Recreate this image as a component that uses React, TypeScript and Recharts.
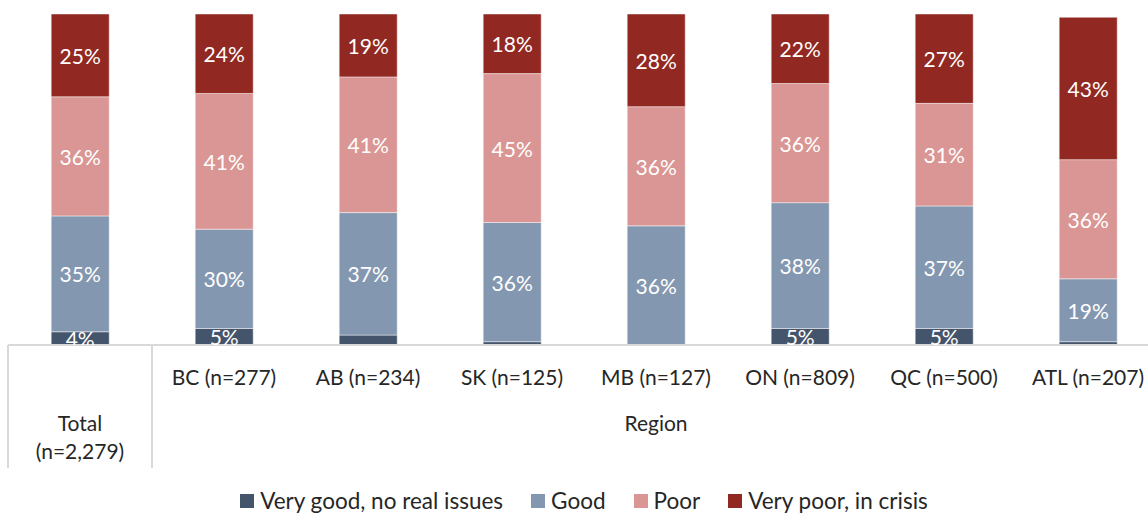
import { BarChart, Bar, XAxis, YAxis, Legend, LabelList } from "recharts";

const categories = [
  "Total (n=2,279)",
  "BC (n=277)",
  "AB (n=234)",
  "SK (n=125)",
  "MB (n=127)",
  "ON (n=809)",
  "QC (n=500)",
  "ATL (n=207)",
];
const veryGood = [4, 5, 3, 1, 0, 5, 5, 1];
const good = [35, 30, 37, 36, 36, 38, 37, 19];
const poor = [36, 41, 41, 45, 36, 36, 31, 36];
const veryPoor = [25, 24, 19, 18, 28, 22, 27, 43];

const groupLabel = "Region";

const series = [
  { key: "veryGood", name: "Very good, no real issues", color: "#44546A" },
  { key: "good", name: "Good", color: "#8497B0" },
  { key: "poor", name: "Poor", color: "#DA9694" },
  { key: "veryPoor", name: "Very poor, in crisis", color: "#922822" },
];

const data = categories.map((c, i) => ({
  name: c,
  veryGood: veryGood[i],
  good: good[i],
  poor: poor[i],
  veryPoor: veryPoor[i],
}));

const W = 1160;
const H = 514;
const margin = { top: 14, right: 0, bottom: 0, left: 8 };
const band = (W - margin.left - margin.right) / categories.length;
const FONT = "Lato, 'Open Sans', sans-serif";
const GRID = "#D9D9D9";

function CategoryTick(props: any) {
  const { x, y, payload, index } = props;
  const label: string = payload.value;
  if (index === 0) {
    const [first, ...rest] = label.split(" ");
    return (
      <g>
        <line x1={x - band / 2} x2={x - band / 2} y1={y} y2={y + 123} stroke={GRID} strokeWidth={2} />
        <line x1={x + band / 2} x2={x + band / 2} y1={y} y2={y + 123} stroke={GRID} strokeWidth={2} />
        <text x={x} y={y + 77} textAnchor="middle" dominantBaseline="central" fill="#262626" fontSize={21} fontFamily={FONT}>
          {first}
        </text>
        <text x={x} y={y + 105} textAnchor="middle" dominantBaseline="central" fill="#262626" fontSize={21} fontFamily={FONT}>
          {rest.join(" ")}
        </text>
      </g>
    );
  }
  // the region group label sits under the middle of the seven regional bars
  const mid = Math.ceil(categories.length / 2);
  return (
    <g>
      <text x={x} y={y + 31} textAnchor="middle" dominantBaseline="central" fill="#262626" fontSize={21} fontFamily={FONT}>
        {label}
      </text>
      {index === mid && (
        <text x={x} y={y + 77} textAnchor="middle" dominantBaseline="central" fill="#262626" fontSize={21} fontFamily={FONT}>
          {groupLabel}
        </text>
      )}
    </g>
  );
}

function SegmentLabel(props: any) {
  const vb = props.viewBox || {};
  const x = Number(props.x ?? vb.x);
  const y = Number(props.y ?? vb.y);
  const width = Number(props.width ?? vb.width);
  const height = Number(props.height ?? vb.height);
  const value = Number(props.value);
  if (!Number.isFinite(value) || value < 4) return null;
  // labels on the thin bottom segments are cut off at the axis line
  const id = `seg-clip-${props.index}-${Math.round(x)}-${Math.round(y)}`;
  return (
    <g>
      <defs>
        <clipPath id={id}>
          <rect x={x} y={y - 30} width={width} height={height + 30} />
        </clipPath>
      </defs>
      <text
        x={x + width / 2}
        y={y + height / 2}
        textAnchor="middle"
        dominantBaseline="central"
        fill="#fff"
        fontSize={21}
        fontFamily={FONT}
        clipPath={`url(#${id})`}
      >
        {`${value}%`}
      </text>
    </g>
  );
}

function LegendContent() {
  return (
    <div style={{ display: "flex", justifyContent: "center", gap: 28, fontFamily: FONT, fontSize: 22.5, lineHeight: "28px", color: "#262626" }}>
      {series.map((s) => (
        <div key={s.key} style={{ display: "flex", alignItems: "center", gap: 6 }}>
          <span style={{ width: 14, height: 14, background: s.color, display: "inline-block" }} />
          <span>{s.name}</span>
        </div>
      ))}
    </div>
  );
}

export default function App() {
  return (
    <div style={{ position: "absolute", left: 0, top: 0, width: 1148, height: H, overflow: "hidden", background: "#fff" }}>
      <BarChart width={W} height={H} data={data} margin={margin} barCategoryGap="30%">
        <XAxis
          dataKey="name"
          interval={0}
          tickLine={false}
          tickSize={0}
          tickMargin={0}
          axisLine={{ stroke: GRID, strokeWidth: 2 }}
          height={139}
          tick={<CategoryTick />}
        />
        <YAxis hide domain={[0, 100]} allowDataOverflow />
        <Legend verticalAlign="bottom" height={30} content={<LegendContent />} wrapperStyle={{ bottom: -3 }} />
        {series.map((s) => (
          <Bar
            key={s.key}
            dataKey={s.key}
            name={s.name}
            stackId="a"
            fill={s.color}
            stroke="rgba(255,255,255,0.45)"
            strokeWidth={1}
            isAnimationActive={false}
          >
            <LabelList dataKey={s.key} content={<SegmentLabel />} />
          </Bar>
        ))}
      </BarChart>
    </div>
  );
}
